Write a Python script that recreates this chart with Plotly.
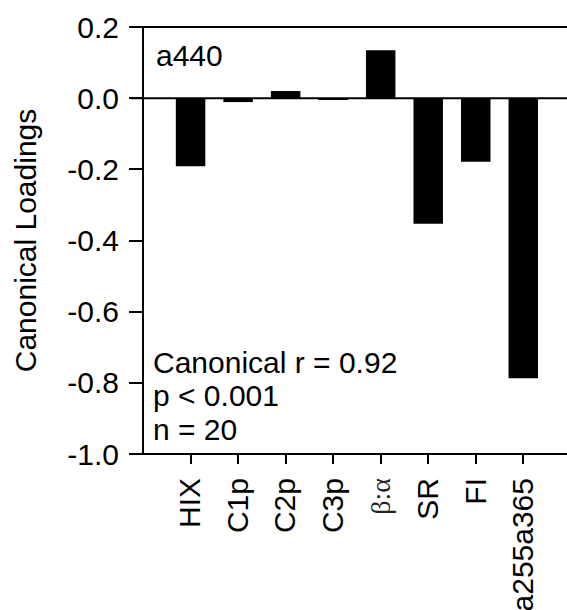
import plotly.graph_objects as go

# ---- data ----
categories = ["HIX", "C1p", "C2p", "C3p", "β:α", "SR", "FI", "a255a365"]
loadings = [-0.191, -0.011, 0.020, -0.005, 0.135, -0.353, -0.179, -0.787]
y_tick_vals = [0.2, 0.0, -0.2, -0.4, -0.6, -0.8, -1.0]
y_tick_text = ["0.2", "0.0", "-0.2", "-0.4", "-0.6", "-0.8", "-1.0"]
panel_label = "a440"
stats_lines = ["Canonical r = 0.92", "p < 0.001", "n = 20"]

FONT = "Liberation Sans, Arial, sans-serif"
W, H = 567, 610
L, R, T, B = 144, 0, 27, 156
y_range = [-1.0, 0.2]
x_range = [-0.98, 7.92]

def tick_label(c):
    if c == "β:α":
        return '<span style="font-family:Liberation Serif, DejaVu Serif, serif;font-size:28px;fill:#222">β:α</span>'
    return c

fig = go.Figure()
fig.add_trace(go.Bar(
    x=categories, y=loadings, width=0.62,
    marker=dict(color="black", line=dict(width=0)),
    hoverinfo="skip",
))

def ypaper(v):
    return (v - y_range[0]) / (y_range[1] - y_range[0])

ext = -13 / (W - L - R)
shapes = []
for v in [0.2, 0.0, -1.0]:
    shapes.append(dict(type="line", xref="paper", yref="paper",
                       x0=ext, x1=1.0, y0=ypaper(v), y1=ypaper(v),
                       line=dict(color="black", width=2)))

fig.update_layout(
    width=W, height=H,
    margin=dict(l=L, r=R, t=T, b=B, pad=0),
    plot_bgcolor="white", paper_bgcolor="white",
    font=dict(family=FONT, size=30, color="black"),
    showlegend=False,
    shapes=shapes,
    xaxis=dict(
        type="category", range=x_range,
        tickmode="array", tickvals=categories,
        ticktext=[tick_label(c) for c in categories],
        tickangle=-90, ticks="outside", ticklen=9, tickwidth=2, tickcolor="black",
        showline=False, showgrid=False, zeroline=False,
        tickfont=dict(size=30), ticklabelstandoff=2,
    ),
    yaxis=dict(
        range=y_range, tickmode="array", tickvals=y_tick_vals, ticktext=y_tick_text,
        ticks="outside", ticklen=13, tickwidth=2, tickcolor="black",
        showline=True, linecolor="black", linewidth=2,
        showgrid=False, zeroline=False,
        tickfont=dict(size=30), ticklabelstandoff=4,
        title=dict(text="Canonical Loadings", font=dict(size=30), standoff=22),
    ),
)

def xpaper(px):
    return (px - L) / (W - L - R)

def ypx(py):
    return 1 - (py - T) / (H - T - B)

fig.add_annotation(text=panel_label, xref="paper", yref="paper",
                   x=xpaper(154), y=ypx(56), xanchor="left", yanchor="middle",
                   showarrow=False, font=dict(size=30))
for txt, cy in zip(stats_lines, [362, 395.5, 429]):
    fig.add_annotation(text=txt, xref="paper", yref="paper",
                       x=xpaper(151), y=ypx(cy), xanchor="left", yanchor="middle",
                       showarrow=False, font=dict(size=30))

fig.write_html("out.html")
